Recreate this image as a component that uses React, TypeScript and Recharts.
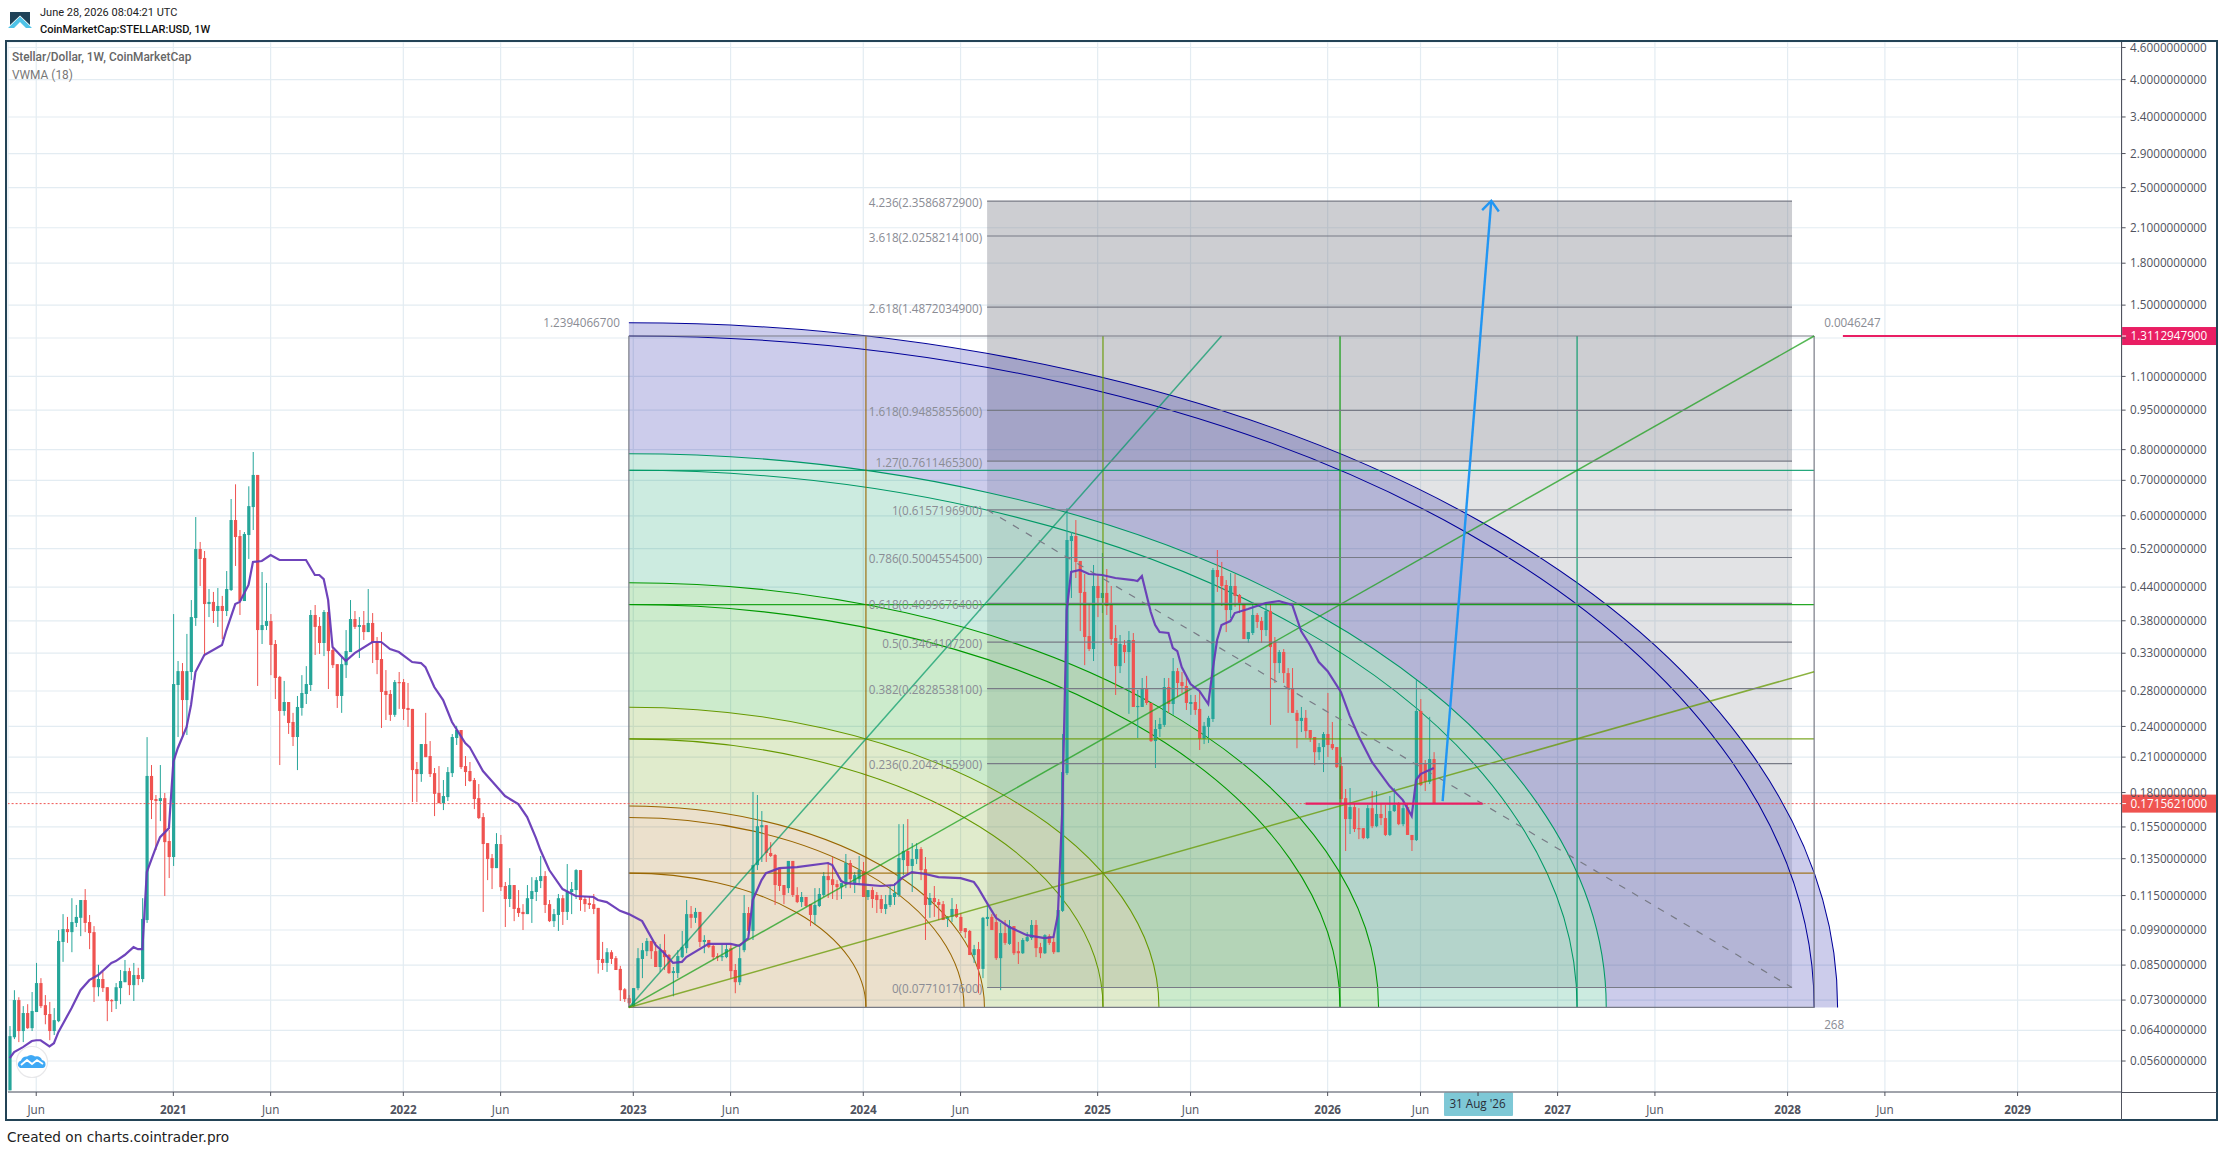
import React from "react";
import { ComposedChart, Bar, Line, XAxis, YAxis, CartesianGrid, ReferenceLine, ReferenceArea } from "recharts";

// weekly candles, [open, high, low, close]
const candles2020 = [
  [.0493,.0652,.0493,.0624],[.0621,.0762,.0616,.0730],[.0730,.0739,.0608,.0638],[.0638,.0711,.0608,.0690],[.0690,.0717,.0644,.0646],
  [.0646,.0756,.0638,.0696],[.0693,.0858,.0693,.0786],[.0786,.0803,.0705,.0711],[.0714,.0746,.0657,.0684],[.0687,.0724,.0613,.0638],
  [.0638,.0705,.0627,.0669],[.0666,.0990,.0663,.0944],[.0940,.1061,.0862,.0994],[.0994,.1048,.0936,.0981],[.0981,.1137,.0899,.1025],
  [.1021,.1104,.1003,.1048],[.1044,.1128,.0964,.1128],[.1128,.1183,.0981,.1021],[.1025,.1057,.0911,.0977],[.0981,.1007,.0724,.0772],
  [.0772,.0851,.0742,.0800],[.0800,.0825,.0756,.0769],[.0772,.0772,.0666,.0727],[.0730,.0733,.0693,.0727],[.0727,.0786,.0702,.0772],
  [.0769,.0832,.0717,.0793],[.0789,.0869,.0789,.0828],[.0828,.0840,.0746,.0779],[.0779,.0858,.0727,.0814],[.0814,.0840,.0779,.0800],
  [.0800,.1137,.0789,.1039],[.1034,.2291,.1021,.1935],[.1935,.2029,.1604,.1742],[.1750,.1781,.1402,.1735],[.1735,.2029,.1590,.1757],
  [.1757,.1797,.1148,.1451],[.1458,.1529,.1241,.1360],
];
const candles2021 = [
  [.1360,.3913,.1308,.2886],[.2874,.3190,.2292,.3053],[.3053,.3162,.2292,.2692],[.2692,.3589,.2312,.3053],[.3041,.4159,.2937,.3862],
  [.3846,.5967,.3716,.5192],[.5192,.5354,.4421,.4972],[.4994,.5148,.3259,.4087],[.4087,.4363,.3862,.4125],[.4125,.4308,.3764,.3965],
  [.3965,.4382,.3700,.4053],[.4053,.4234,.3510,.3965],[.3965,.4718,.3879,.4363],[.4344,.6454,.4325,.5890],[.5890,.6880,.4823,.5470],
  [.5494,.5640,.3897,.4141],[.4141,.5591,.4141,.5542],[.5518,.6821,.4972,.6258],[.6232,.7918,.5640,.7166],[.7166,.7166,.2862,.3650],
  [.3650,.4698,.3435,.3730],[.3716,.4480,.3650,.3796],[.3796,.3913,.3000,.3420],[.3435,.3495,.2704,.2963],[.2977,.2990,.2029,.2567],
  [.2567,.2925,.2515,.2669],[.2669,.2669,.2323,.2436],[.2447,.2546,.2204,.2292],[.2292,.2740,.1985,.2612],[.2601,.3000,.2515,.2776],
  [.2764,.3120,.2646,.2886],[.2874,.3982,.2800,.3897],[.3897,.4070,.3275,.3700],[.3716,.3862,.3290,.3450],[.3450,.3982,.3259,.3948],
  [.3948,.4159,.2824,.3331],[.3346,.3405,.3094,.3133],[.3147,.3147,.2601,.2740],[.2740,.3259,.2546,.3147],[.3133,.3650,.2963,.3331],
  [.3317,.4159,.3317,.3829],[.3829,.3965,.3667,.3700],[.3700,.3862,.3232,.3730],[.3730,.3965,.3495,.3618],[.3618,.4363,.3618,.3764],
  [.3764,.3930,.3162,.3450],[.3465,.3541,.3013,.3204],[.3218,.3618,.2384,.2788],[.2800,.3067,.2468,.2752],[.2764,.2812,.2458,.2524],
  [.2524,.2937,.2502,.2911],[.2911,.3041,.2590,.2899],
];
const candles2022 = [
  [.2911,.2950,.2468,.2590],[.2601,.2899,.2395,.2578],[.2590,.2590,.1727,.1985],[.1994,.2056,.1727,.1951],[.1951,.2223,.1886,.2223],
  [.2223,.2546,.2100,.2100],[.2110,.2252,.1926,.1951],[.1959,.2003,.1625,.1790],[.1797,.2020,.1719,.1719],[.1719,.1901,.1668,.1773],
  [.1765,.2011,.1735,.1968],[.1959,.2322,.1926,.2292],[.2282,.2406,.2214,.2363],[.2363,.2363,.1994,.2011],[.2020,.2110,.1852,.1968],
  [.1977,.2056,.1886,.1893],[.1901,.1918,.1675,.1750],[.1757,.1868,.1604,.1611],[.1618,.1647,.1071,.1439],[.1445,.1445,.1230,.1348],
  [.1354,.1378,.1183,.1296],[.1296,.1509,.1296,.1439],[.1439,.1497,.1173,.1193],[.1199,.1220,.1003,.1133],[.1133,.1296,.1094,.1204],
  [.1204,.1204,.1029,.1085],[.1090,.1178,.1048,.1066],[.1071,.1108,.0990,.1061],[.1061,.1204,.1061,.1137],[.1133,.1246,.1021,.1173],
  [.1168,.1246,.1123,.1230],[.1225,.1366,.1188,.1252],[.1252,.1279,.1066,.1104],[.1108,.1128,.1025,.1029],[.1029,.1085,.1003,.1061],
  [.1057,.1158,.0986,.1137],[.1137,.1153,.1012,.1071],[.1071,.1319,.1034,.1168],[.1168,.1220,.1061,.1183],[.1178,.1290,.1133,.1285],
  [.1285,.1285,.1076,.1128],[.1133,.1148,.1071,.1108],[.1113,.1148,.1085,.1104],[.1108,.1158,.1061,.1085],[.1090,.1090,.0819,.0869],
  [.0873,.0940,.0832,.0858],[.0858,.0915,.0825,.0899],[.0899,.0907,.0854,.0873],[.0876,.0884,.0832,.0832],[.0836,.0847,.0727,.0762],
  [.0765,.0769,.0724,.0733],[.0736,.0746,.0705,.0720],
];
const candles2023 = [
  [.0711,.0769,.0708,.0769],[.0769,.0915,.0762,.0876],[.0873,.0936,.0803,.0907],[.0903,.0956,.0884,.0944],[.0944,.0944,.0873,.0903],
  [.0903,.0940,.0843,.0843],[.0843,.0932,.0825,.0907],[.0907,.0972,.0832,.0880],[.0888,.0892,.0818,.0821],[.0821,.0843,.0742,.0828],
  [.0821,.0907,.0803,.0884],[.0880,.0986,.0876,.0919],[.0915,.1128,.0895,.1061],[.1061,.1099,.0998,.1044],[.1044,.1090,.1021,.1071],
  [.1071,.1071,.0919,.0940],[.0940,.0968,.0895,.0948],[.0948,.0948,.0915,.0919],[.0924,.0928,.0869,.0880],[.0884,.0895,.0865,.0880],
  [.0880,.0928,.0865,.0884],[.0880,.0932,.0876,.0911],[.0915,.0932,.0803,.0828],[.0832,.0854,.0752,.0789],[.0789,.0919,.0779,.0876],
  [.0907,.1153,.0899,.1066],[.1066,.1094,.0977,.0986],[.0986,.1805,.0948,.1313],[.1313,.1781,.1285,.1555],[.1548,.1661,.1331,.1562],
  [.1562,.1562,.1331,.1384],[.1384,.1451,.1360,.1366],[.1372,.1378,.1104,.1204],[.1296,.1296,.1173,.1199],[.1204,.1204,.1108,.1153],
  [.1188,.1337,.1163,.1337],[.1337,.1337,.1143,.1153],[.1153,.1193,.1113,.1118],[.1118,.1168,.1094,.1143],[.1143,.1143,.1094,.1099],
  [.1108,.1108,.1007,.1057],[.1057,.1188,.1016,.1104],[.1099,.1188,.1094,.1158],[.1153,.1274,.1143,.1252],[.1252,.1331,.1138,.1230],
  [.1235,.1360,.1133,.1204],[.1209,.1230,.1128,.1193],[.1193,.1214,.1133,.1214],[.1214,.1378,.1188,.1325],[.1325,.1342,.1188,.1235],
  [.1214,.1274,.1163,.1257],[.1235,.1366,.1204,.1285],
];
const candles2024 = [
  [.1279,.1331,.1143,.1143],[.1143,.1178,.1128,.1178],[.1178,.1193,.1090,.1133],[.1153,.1168,.1066,.1128],[.1133,.1153,.1066,.1085],
  [.1085,.1153,.1061,.1108],[.1104,.1204,.1094,.1153],[.1143,.1214,.1104,.1163],[.1153,.1569,.1143,.1354],[.1342,.1569,.1257,.1396],
  [.1396,.1604,.1257,.1308],[.1308,.1445,.1168,.1348],[.1348,.1445,.1319,.1408],[.1408,.1420,.1230,.1285],[.1290,.1360,.0948,.1104],
  [.1104,.1163,.1044,.1138],[.1138,.1199,.1048,.1118],[.1118,.1133,.1034,.1104],[.1108,.1123,.1034,.1034],[.1039,.1052,.1003,.1048],
  [.1048,.1138,.1025,.1085],[.1085,.1108,.1044,.1048],[.1048,.1066,.0977,.0986],[.0998,.0998,.0956,.0981],[.0986,.0990,.0888,.0888],
  [.0888,.0928,.0858,.0911],[.0911,.0940,.0752,.0836],[.0836,.1048,.0803,.1044],[.1039,.1113,.1007,.1048],[.1048,.1061,.0990,.0990],
  [.1025,.1061,.0869,.0876],[.0876,.1021,.0762,.0977],[.0977,.1034,.0928,.0936],[.0932,.1034,.0928,.1007],[.1007,.1007,.0888,.0895],
  [.0903,.0940,.0854,.0895],[.0895,.0956,.0892,.0948],[.0944,.0981,.0940,.0960],[.0956,.1034,.0948,.1012],[.1012,.1034,.0880,.0915],
  [.0919,.0936,.0876,.0895],[.0895,.0972,.0892,.0968],[.0964,.0972,.0928,.0936],[.0940,.0972,.0892,.0899],[.0899,.1080,.0899,.1080],
  [.1076,.2322,.1071,.1968],[.1959,.6205,.1943,.5400],[.5376,.5591,.4196,.5494],[.5494,.5890,.4577,.4908],[.4929,.4929,.3634,.4289],
  [.4308,.4657,.3133,.3541],[.3556,.4106,.3331,.3361],[.3361,.4844,.3190,.4421],
];
const candles2025 = [
  [.4421,.4637,.3862,.4196],[.4196,.5103,.3930,.4289],[.4289,.4760,.3897,.4053],[.4070,.4421,.3420,.3510],[.3526,.3730,.2752,.3120],
  [.3120,.3572,.3027,.3435],[.3420,.3495,.3162,.3317],[.3317,.3634,.2535,.3495],[.3495,.3603,.2612,.2612],[.2612,.2812,.2282,.2624],
  [.2612,.2963,.2612,.2824],[.2824,.2990,.2635,.2658],[.2658,.2658,.2243,.2252],[.2252,.2468,.2003,.2373],[.2373,.2491,.2292,.2426],
  [.2416,.2963,.2395,.2849],[.2849,.2963,.2546,.2646],[.2646,.3232,.2524,.3053],[.3053,.3094,.2728,.2899],[.2911,.3041,.2776,.2862],
  [.2862,.3000,.2578,.2658],[.2646,.2752,.2524,.2669],[.2669,.2752,.2524,.2578],[.2590,.2788,.2166,.2272],[.2272,.2447,.2223,.2406],
  [.2395,.2513,.2233,.2491],[.2479,.4780,.2447,.4739],[.4739,.5170,.4308,.4597],[.4617,.4908,.4053,.4421],[.4440,.4537,.3618,.3982],
  [.3982,.4677,.3846,.4421],[.4421,.4657,.4036,.4234],[.4252,.4270,.3930,.4087],[.4087,.4106,.3510,.3510],[.3510,.3618,.3450,.3618],
  [.3603,.4125,.3572,.3897],[.3897,.3930,.3683,.3780],[.3796,.3862,.3450,.3650],[.3650,.4106,.3556,.3965],[.3965,.4106,.2416,.3390],
  [.3465,.3541,.2899,.3162],[.3162,.3346,.3027,.3317],[.3317,.3361,.2899,.3027],[.3027,.3094,.2546,.2837],[.2837,.3094,.2546,.2546],
  [.2546,.2578,.2183,.2458],[.2458,.2612,.2342,.2491],[.2491,.2578,.2282,.2352],[.2363,.2363,.2243,.2282],[.2292,.2292,.2029,.2146],
  [.2146,.2233,.2074,.2194],[.2194,.2342,.1968,.2322],
];
const candles2026 = [
  [.2322,.2776,.2100,.2214],[.2223,.2447,.2166,.2183],[.2194,.2194,.2003,.2011],[.2020,.2100,.1719,.1750],[.1757,.1828,.1396,.1604],
  [.1604,.1836,.1503,.1690],[.1690,.1719,.1516,.1536],[.1542,.1682,.1470,.1536],[.1542,.1542,.1470,.1477],[.1477,.1705,.1470,.1682],
  [.1682,.1812,.1542,.1555],[.1555,.1812,.1548,.1640],[.1640,.1719,.1562,.1611],[.1611,.1705,.1490,.1497],[.1497,.1773,.1490,.1661],
  [.1661,.1836,.1654,.1705],[.1712,.1727,.1562,.1569],[.1569,.1719,.1555,.1682],[.1690,.1712,.1497,.1497],[.1497,.1497,.1396,.1464],
  [.1464,.2937,.1458,.2567],[.2567,.2704,.1852,.1860],[.2047,.2074,.1812,.1886],[.1886,.2502,.1868,.2083],[.2083,.2146,.1716,.1716],
];
const candles = [...candles2020, ...candles2021, ...candles2022, ...candles2023, ...candles2024, ...candles2025, ...candles2026];

// VWMA (18), [week, value] where the line could be read
const vwmaPoints = [
  [0,.0567],[1,.0582],[3,.0595],[5,.0611],[6,.0613],[7,.0613],[9,.0597],[10,.0605],[11,.0635],[14,.0705],[16,.0762],[18,.0796],[20,.0814],
  [23,.0858],[24,.0865],[26,.0888],[28,.0919],[29,.0911],[30,.0911],[31,.1274],[33,.1414],[34,.1483],[36,.1542],[37,.2056],[38,.2183],
  [40,.2395],[41,.2635],[42,.3041],[44,.3275],[48,.3420],[49,.3650],[51,.4087],[52,.4125],[54,.4440],[55,.4908],[57,.4929],[59,.5059],
  [61,.4950],[67,.4950],[69,.4637],[70,.4637],[71,.4556],[72,.4159],[73,.3390],[76,.3190],[78,.3302],[82,.3465],[84,.3465],[86,.3361],
  [88,.3317],[91,.3176],[93,.3162],[94,.3107],[96,.2849],[98,.2692],[100,.2447],[103,.2233],[104,.2194],[107,.1977],[109,.1893],[110,.1852],
  [112,.1773],[115,.1712],[117,.1618],[119,.1477],[120,.1402],[122,.1285],[125,.1183],[128,.1148],[132,.1143],[133,.1128],[135,.1118],
  [138,.1076],[140,.1061],[143,.1029],[146,.0928],[148,.0895],[150,.0858],[152,.0862],[153,.0880],[158,.0932],[163,.0932],[165,.0924],
  [167,.0956],[168,.1128],[170,.1230],[171,.1268],[174,.1296],[178,.1302],[185,.1325],[186,.1313],[188,.1225],[189,.1214],[192,.1209],
  [197,.1199],[200,.1204],[202,.1246],[204,.1274],[207,.1263],[210,.1246],[215,.1241],[218,.1220],[219,.1188],[221,.1113],[223,.1044],
  [226,.1003],[230,.0968],[234,.0956],[236,.0960],[237,.1057],[238,.1668],[239,.3982],[240,.4698],[242,.4739],[244,.4657],[247,.4637],
  [250,.4577],[254,.4537],[255,.4518],[256,.4617],[258,.3948],[259,.3730],[260,.3618],[262,.3603],[263,.3376],[264,.3331],[265,.3107],
  [267,.2886],[269,.2800],[271,.2646],[272,.3067],[273,.3495],[274,.3730],[276,.3796],[277,.3930],[280,.3999],[284,.4106],[287,.4141],
  [290,.4070],[292,.3634],[294,.3420],[296,.3176],[298,.3053],[301,.2788],[303,.2513],[305,.2302],[308,.2056],[312,.1852],[315,.1742],
  [317,.1625],[318,.1901],[319,.1951],[322,.2003],
];

const priceTicks = [4.6,4,3.4,2.9,2.5,2.1,1.8,1.5,1.3,1.1,.95,.8,.7,.6,.52,.44,.38,.33,.28,.24,.21,.18,.155,.135,.115,.099,.085,.073,.064,.056];
const timeTicks = [6,37,59,89,111,141,163,193,215,246,267,298,319,350,372,402,424,454];
const timeLabels = ["Jun","2021","Jun","2022","Jun","2023","Jun","2024","Jun","2025","Jun","2026","Jun","2027","Jun","2028","Jun","2029"];

// fib extension drawing
const fibStart = 221;
const fibEnd = 403;
const fibRatios = ["0","0.236","0.382","0.5","0.618","0.786","1","1.27","1.618","2.618","3.618","4.236"];
const fibPrices = [.07710176,.20421559,.28285381,.34641072,.40996764,.50045545,.61571969,.76114653,.94858556,1.48720349,2.02582141,2.35868729];

// gann box drawing
const boxStartWeek = 140;
const boxBars = 268;
const boxLow = .0707;
const boxHigh = 1.31129479;
const lastPrice = .1715621;
const boxLevels = [.2,.4,.6,.8];
const levelColors = ["rgb(153,102,0)","rgb(102,153,0)","rgb(0,153,0)","rgb(0,153,102)"];
const ringEdges = [0,.3,.4472,.6325,.8246,1.0198];
const ringColors = ["153,102,0","102,153,0","0,153,0","0,153,102","0,0,153"];
const arcFractions = [.2,.2828,.3,.4,.4472,.6,.6325,.8,.8246,1,1.0198];
const arcColors = ["153,102,0","153,102,0","153,102,0","102,153,0","102,153,0","0,153,0","0,153,0","0,153,102","0,153,102","0,0,153","0,0,153"];

const FONT = '"Open Sans", sans-serif';
const UP = "#26a69a";
const DOWN = "#ef5350";
const GREY = "rgb(120,123,134)";
const LABEL = "#8a8c94";

const vwmaByWeek = new Map(vwmaPoints.map(([w, v]) => [w, v]));
const rows = candles.map(([open, high, low, close], week) => ({
  week, open, high, low, close, wick: [low, high], vwma: vwmaByWeek.get(week),
}));

const priceAt = (f: number) => boxLow * Math.pow(boxHigh / boxLow, f);
const weekAt = (f: number) => boxStartWeek + boxBars * f;

function Candle(props: any) {
  const { x, y, width, height, payload } = props;
  const { open, high, low, close } = payload;
  const cx = x + width / 2;
  const span = Math.log(high / low) || 1;
  const yOf = (p: number) => y + (height * Math.log(high / p)) / span;
  const top = yOf(Math.max(open, close));
  const bottom = yOf(Math.min(open, close));
  const color = close >= open ? UP : DOWN;
  return (
    <g>
      <line x1={cx} x2={cx} y1={y} y2={y + height} stroke={color} strokeWidth={1} />
      <rect x={cx - 1.6} y={top} width={3.2} height={Math.max(bottom - top, 1.2)} fill={color} />
    </g>
  );
}

function ring(inner: number, outer: number, rgb: string) {
  return (props: any) => {
    const { x, y, width: w, height: h } = props;
    const k = inner / outer;
    const by = y + h;
    return (
      <path
        d={`M${x} ${y}A${w} ${h} 0 0 1 ${x + w} ${by}L${x + w * k} ${by}A${w * k} ${h * k} 0 0 0 ${x} ${by - h * k}Z`}
        fill={`rgba(${rgb},0.2)`}
      />
    );
  };
}

function arc(rgb: string) {
  return (props: any) => {
    const { x, y, width: w, height: h } = props;
    return <path d={`M${x} ${y}A${w} ${h} 0 0 1 ${x + w} ${y + h}`} fill="none" stroke={`rgb(${rgb})`} strokeWidth={1.05} />;
  };
}

function fibLine(label: string) {
  return (props: any) => {
    const { x1, y1, x2, y2 } = props;
    return (
      <g>
        <line x1={x1} y1={y1} x2={x2} y2={y2} stroke={GREY} strokeWidth={1.2} />
        <text x={x1 - 5} y={y1 + 5.5} textAnchor="end" fontSize={11.7} fontFamily={FONT} fill={LABEL}>{label}</text>
      </g>
    );
  };
}

function priceBadge(text: string, fill: string) {
  return (props: any) => {
    const { x2, y1 } = props;
    return (
      <g>
        <rect x={x2 + 0.5} y={y1 - 9} width={94.5} height={18} fill={fill} />
        <line x1={x2 + 0.5} x2={x2 + 4.5} y1={y1} y2={y1} stroke="#fff" />
        <text x={x2 + 9} y={y1 + 4.2} fontSize={11.7} fontFamily={FONT} fill="#fff">{text}</text>
      </g>
    );
  };
}

function arrowLine(props: any) {
  const { x1, y1, x2, y2 } = props;
  const a = Math.atan2(y2 - y1, x2 - x1);
  const hx = (d: number) => x2 - 13 * Math.cos(a + d);
  const hy = (d: number) => y2 - 13 * Math.sin(a + d);
  return (
    <g fill="none" stroke="#2196f3" strokeWidth={2.4}>
      <line x1={x1} y1={y1} x2={x2} y2={y2} />
      <polyline points={`${hx(0.7)},${hy(0.7)} ${x2},${y2} ${hx(-0.7)},${hy(-0.7)}`} />
    </g>
  );
}

function timeBadge(props: any) {
  const { x1, y1, y2 } = props;
  const b = Math.max(y1, y2);
  return (
    <g>
      <rect x={x1 - 34} y={b + 0.5} width={69} height={23.5} rx={1} fill="#7ec8d6" />
      <line x1={x1} x2={x1} y1={b} y2={b + 4} stroke="#3c3e46" />
      <text x={x1 - 0.5} y={b + 16} textAnchor="middle" fontSize={11.7} fontFamily={FONT} fill="#2a2e39">31 Aug '26</text>
    </g>
  );
}

function TimeTick(props: any) {
  const { x, y, index } = props;
  const label = timeLabels[index];
  const isYear = label !== "Jun";
  return (
    <text x={x} y={y + 16} textAnchor="middle" fontSize={11.7} fontFamily={FONT} fontWeight={isYear ? 700 : 400} fill="#50535e">
      {label}
    </text>
  );
}

function PlainText(props: any) {
  const { x, y, text, anchor } = props;
  return <text x={x} y={y} textAnchor={anchor} fontSize={11.7} fontFamily={FONT} fill={LABEL}>{text}</text>;
}

export default function App() {
  return (
    <div style={{ position: "absolute", left: 0, top: 0, width: 2226, height: 1152, overflow: "hidden", background: "#fff" }}>
      {/* header */}
      <svg width={34} height={30} style={{ position: "absolute", left: 0, top: 0 }} viewBox="0 0 34 30">
        <polygon points="10,12 30,12 30,25 20,15.5 10,25" fill="#1f4258" />
        <polygon points="8,28 20,16.5 32,28 26,28 20,22 14,28" fill="#4fc3e8" />
      </svg>
      <div style={{ position: "absolute", left: 40, top: 6, font: "11px Roboto", color: "#222", whiteSpace: "nowrap" }}>June 28, 2026 08:04:21 UTC</div>
      <div style={{ position: "absolute", left: 40, top: 23, font: "500 11.05px Roboto", color: "#111", whiteSpace: "nowrap" }}>CoinMarketCap:STELLAR:USD, 1W</div>

      <ComposedChart
        width={2226}
        height={1152}
        data={rows}
        margin={{ top: 42, right: 8, bottom: 32, left: 8 }}
        style={{ position: "absolute", left: 0, top: 0 }}
      >
        <CartesianGrid stroke="#e3ecf2" strokeWidth={1.2} />
        <XAxis
          dataKey="week"
          type="number"
          domain={[-0.384, 477.52]}
          allowDataOverflow
          ticks={timeTicks}
          interval={0}
          height={28}
          tick={<TimeTick />}
          tickSize={4}
          stroke="#50535e"
        />
        <YAxis
          orientation="right"
          scale="log"
          domain={[0.04894, 4.711]}
          allowDataOverflow
          ticks={priceTicks}
          interval={0}
          width={96.4}
          tickSize={4}
          tickMargin={4.5}
          stroke="#50535e"
          tick={{ fontSize: 11.7, fontFamily: FONT, fill: "#50535e" }}
          tickFormatter={(v: number) => (v === 1.3 ? "" : v.toFixed(10))}
        />

        {/* fib extension fills */}
        <ReferenceArea x1={fibStart} x2={fibEnd} y1={fibPrices[0]} y2={fibPrices[7]} fill="rgb(120,123,134)" fillOpacity={0.21} stroke="none" ifOverflow="visible" />
        <ReferenceArea x1={fibStart} x2={fibEnd} y1={fibPrices[7]} y2={fibPrices[11]} fill="rgb(120,123,134)" fillOpacity={0.37} stroke="none" ifOverflow="visible" />

        {/* gann box fills */}
        {ringColors.map((rgb, i) => (
          <ReferenceArea
            key={"ring" + i}
            x1={boxStartWeek}
            x2={weekAt(ringEdges[i + 1])}
            y1={boxLow}
            y2={priceAt(ringEdges[i + 1])}
            ifOverflow="visible"
            shape={ring(ringEdges[i], ringEdges[i + 1], rgb)}
          />
        ))}
        {arcFractions.map((f, i) => (
          <ReferenceArea
            key={"arc" + i}
            x1={boxStartWeek}
            x2={weekAt(f)}
            y1={boxLow}
            y2={priceAt(f)}
            ifOverflow="visible"
            shape={arc(arcColors[i])}
          />
        ))}

        {/* gann box frame, levels and fan */}
        {boxLevels.map((f, i) => (
          <ReferenceLine key={"h" + i} ifOverflow="visible" stroke={levelColors[i]} strokeOpacity={0.85} strokeWidth={1.3}
            segment={[{ x: boxStartWeek, y: priceAt(f) }, { x: weekAt(1), y: priceAt(f) }]} />
        ))}
        {boxLevels.map((f, i) => (
          <ReferenceLine key={"v" + i} ifOverflow="visible" stroke={levelColors[i]} strokeOpacity={0.85} strokeWidth={1.3}
            segment={[{ x: weekAt(f), y: boxLow }, { x: weekAt(f), y: boxHigh }]} />
        ))}
        <ReferenceLine ifOverflow="visible" stroke={GREY} strokeWidth={1.2} segment={[{ x: boxStartWeek, y: boxHigh }, { x: weekAt(1), y: boxHigh }]} />
        <ReferenceLine ifOverflow="visible" stroke={GREY} strokeWidth={1.2} segment={[{ x: boxStartWeek, y: boxLow }, { x: weekAt(1), y: boxLow }]} />
        <ReferenceLine ifOverflow="visible" stroke={GREY} strokeWidth={1.2} segment={[{ x: boxStartWeek, y: boxLow }, { x: boxStartWeek, y: boxHigh }]} />
        <ReferenceLine ifOverflow="visible" stroke={GREY} strokeWidth={1.2} segment={[{ x: weekAt(1), y: boxLow }, { x: weekAt(1), y: boxHigh }]} />
        <ReferenceLine ifOverflow="visible" stroke="rgb(0,153,102)" strokeOpacity={0.7} strokeWidth={1.5} segment={[{ x: boxStartWeek, y: boxLow }, { x: weekAt(0.5), y: boxHigh }]} />
        <ReferenceLine ifOverflow="visible" stroke="rgb(30,160,30)" strokeOpacity={0.75} strokeWidth={1.5} segment={[{ x: boxStartWeek, y: boxLow }, { x: weekAt(1), y: boxHigh }]} />
        <ReferenceLine ifOverflow="visible" stroke="rgb(102,153,0)" strokeOpacity={0.75} strokeWidth={1.5} segment={[{ x: boxStartWeek, y: boxLow }, { x: weekAt(1), y: priceAt(0.5) }]} />

        {/* fib extension levels */}
        {fibPrices.map((p, i) => (
          <ReferenceLine key={"fib" + i} ifOverflow="visible" segment={[{ x: fibStart, y: p }, { x: fibEnd, y: p }]}
            shape={fibLine(`${fibRatios[i]}(${p.toFixed(10)})`)} />
        ))}
        <ReferenceLine ifOverflow="visible" stroke={GREY} strokeWidth={1.2} strokeDasharray="7 8"
          segment={[{ x: fibStart, y: fibPrices[6] }, { x: fibEnd, y: fibPrices[0] }]} />

        <ReferenceLine y={lastPrice} stroke={DOWN} strokeWidth={1} strokeDasharray="2 2" />

        <Bar dataKey="wick" barSize={3} shape={<Candle />} isAnimationActive={false} />
        <Line dataKey="vwma" stroke="#673ab7" strokeOpacity={0.95} strokeWidth={2.2} dot={false} connectNulls type="linear" isAnimationActive={false} />

        <ReferenceLine ifOverflow="visible" stroke="#e91e63" strokeWidth={2.4} segment={[{ x: 293, y: lastPrice }, { x: 333, y: lastPrice }]} />
        <ReferenceLine ifOverflow="visible" segment={[{ x: 324, y: 0.1735 }, { x: 335, y: 2.36 }]} shape={arrowLine} />
        <ReferenceLine ifOverflow="visible" stroke="#e91e63" strokeWidth={2} segment={[{ x: 414.5, y: boxHigh }, { x: 477.52, y: boxHigh }]} />

        {/* drawing captions */}
        <ReferenceLine ifOverflow="visible" segment={[{ x: boxStartWeek, y: boxHigh }, { x: boxStartWeek, y: boxHigh }]}
          shape={(p: any) => <PlainText x={p.x1 - 9} y={p.y1 - 9} anchor="end" text="1.2394066700" />} />
        <ReferenceLine ifOverflow="visible" segment={[{ x: weekAt(1), y: boxHigh }, { x: weekAt(1), y: boxHigh }]}
          shape={(p: any) => <PlainText x={p.x1 + 10} y={p.y1 - 9} anchor="start" text="0.0046247" />} />
        <ReferenceLine ifOverflow="visible" segment={[{ x: weekAt(1), y: boxLow }, { x: weekAt(1), y: boxLow }]}
          shape={(p: any) => <PlainText x={p.x1 + 10} y={p.y1 + 22} anchor="start" text="268" />} />

        {/* axis badges */}
        <ReferenceLine ifOverflow="visible" segment={[{ x: 477.52, y: boxHigh }, { x: 477.52, y: boxHigh }]} shape={priceBadge("1.3112947900", "#e91e63")} />
        <ReferenceLine ifOverflow="visible" segment={[{ x: 477.52, y: lastPrice }, { x: 477.52, y: lastPrice }]} shape={priceBadge("0.1715621000", DOWN)} />
        <ReferenceLine ifOverflow="visible" x={332} shape={timeBadge} />
      </ComposedChart>

      {/* legend text and frame */}
      <div style={{ position: "absolute", left: 12, top: 50, font: "500 11.9px Roboto", color: "#666", whiteSpace: "nowrap" }}>Stellar/Dollar, 1W, CoinMarketCap</div>
      <div style={{ position: "absolute", left: 12, top: 68, font: "11.9px Roboto", color: "#777", whiteSpace: "nowrap" }}>VWMA (18)</div>
      <div style={{ position: "absolute", left: 5, top: 40, width: 2213, height: 1081, boxSizing: "border-box", border: "2.5px solid #234356" }} />
      <div style={{ position: "absolute", left: 2121, top: 42, width: 1.2, height: 1078, background: "#50535e" }} />
      <div style={{ position: "absolute", left: 2121, top: 1092, width: 96, height: 1.2, background: "#50535e" }} />
      <svg width={36} height={36} style={{ position: "absolute", left: 14, top: 1044 }} viewBox="0 0 36 36">
        <circle cx={18} cy={18} r={15.5} fill="#fff" stroke="#e8e8ea" strokeWidth={1.2} />
        <path d="M6 24a4 4 0 0 1 1-7.5a6 6 0 0 1 6-4a6 6 0 0 1 8 0a6 6 0 0 1 7 3.5a4.2 4.2 0 0 1 1 8Z" fill="#3fa9f5" />
        <polyline points="7,21 13,16 18,20 23,16 29,20" fill="none" stroke="#fff" strokeWidth={1.8} />
      </svg>
      <div style={{ position: "absolute", left: 7, top: 1129, font: "13.65px 'DejaVu Sans'", color: "#222", whiteSpace: "nowrap" }}>Created on charts.cointrader.pro</div>
    </div>
  );
}
